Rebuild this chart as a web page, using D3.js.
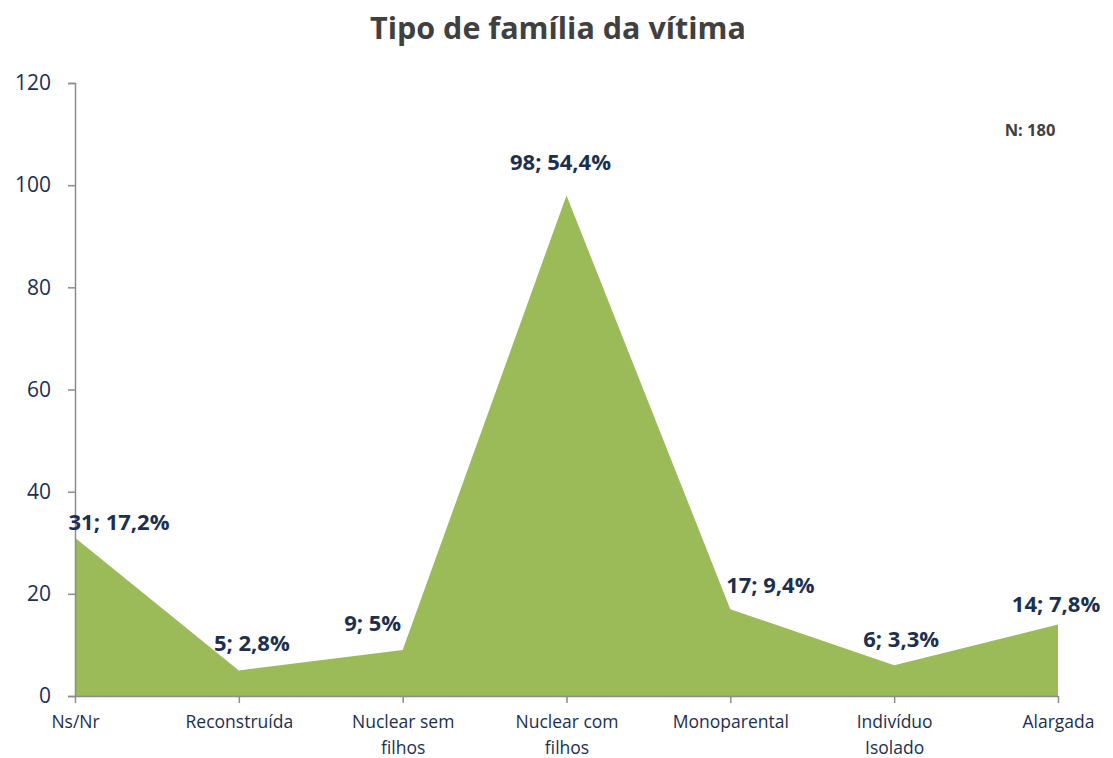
<!DOCTYPE html>
<html>
<head>
<meta charset="utf-8">
<script src="https://cdn.jsdelivr.net/npm/d3@7"></script>
<style>
    body { margin: 0; background: #fff; }
    svg { font-family: "Open Sans", "Noto Sans", sans-serif; }
    .axis path, .axis line { stroke: #8c8c8c; stroke-width: 1.5; }
    .axis text { fill: #1c2f4f; font-family: "Open Sans", "Noto Sans", sans-serif; }
</style>
</head>
<body>
<svg id="chart" width="1113" height="758"></svg>
<script>
// chart values
var categories = ["Ns/Nr", "Reconstruída", "Nuclear sem filhos", "Nuclear com filhos", "Monoparental", "Indivíduo Isolado", "Alargada"];
var values = [31, 5, 9, 98, 17, 6, 14];
var percents = ["17,2%", "2,8%", "5%", "54,4%", "9,4%", "3,3%", "7,8%"];
var yTicks = [0, 20, 40, 60, 80, 100, 120];
var totalN = 180;

// label nudges (layout only), matching the manually placed labels
var labelDx = [44, 13, -30, -6, 40, 7, -2];
var labelDy = [-15, -27, -27, -33, -24, -26, -20];

var svg = d3.select("#chart");
var margin = { top: 83, right: 55, bottom: 62, left: 75 };
var width = +svg.attr("width") - margin.left - margin.right;
var height = +svg.attr("height") - margin.top - margin.bottom;

var xScale = d3.scalePoint().domain(categories).range([0, width]);
var yScale = d3.scaleLinear().domain([0, 120]).range([height, 0]);

var g = svg.append("g")
    .attr("transform", "translate(" + margin.left + "," + margin.top + ")");

var data = categories.map(function (c, i) {
    return { cat: c, value: values[i], pct: percents[i], i: i };
});

var area = d3.area()
    .x(function (d) { return xScale(d.cat); })
    .y0(yScale(0))
    .y1(function (d) { return yScale(d.value); });

g.append("path")
    .datum(data)
    .attr("fill", "#9bbb59")
    .attr("d", area);

var yAxis = d3.axisLeft(yScale)
    .tickValues(yTicks)
    .tickSizeInner(7)
    .tickSizeOuter(7)
    .tickPadding(17);

var xAxis = d3.axisBottom(xScale)
    .tickSizeInner(7)
    .tickSizeOuter(0)
    .tickPadding(13);

var gx = g.append("g")
    .attr("class", "axis axis-x")
    .attr("transform", "translate(0," + height + ")")
    .call(xAxis);

gx.selectAll("text")
    .style("font-size", "17.5px")
    .each(function (d) {
        var t = d3.select(this);
        var words = d.split(" ");
        if (words.length > 2 || d.length > 12) {
            var first = words.length > 2 ? words.slice(0, 2).join(" ") : words[0];
            var rest = words.length > 2 ? words.slice(2).join(" ") : words.slice(1).join(" ");
            t.text(null);
            t.append("tspan").attr("x", 0).attr("dy", "0.71em").text(first);
            t.append("tspan").attr("x", 0).attr("dy", "1.45em").text(rest);
            t.attr("dy", null);
        }
    });

var gy = g.append("g")
    .attr("class", "axis axis-y")
    .call(yAxis);

gy.selectAll("text").style("font-size", "21px");

g.selectAll(".data-label")
    .data(data)
    .enter().append("text")
    .attr("class", "data-label")
    .attr("x", function (d) { return xScale(d.cat) + labelDx[d.i]; })
    .attr("y", function (d) { return yScale(d.value) + labelDy[d.i]; })
    .attr("dy", "0.35em")
    .attr("text-anchor", "middle")
    .style("font-size", "22px")
    .style("font-weight", "bold")
    .style("fill", "#1c2f4f")
    .text(function (d) { return d.value + "; " + d.pct; });

svg.append("text")
    .attr("x", 558)
    .attr("y", 28)
    .attr("dy", "0.35em")
    .attr("text-anchor", "middle")
    .style("font-size", "30.5px")
    .style("font-weight", "bold")
    .style("fill", "#404040")
    .text("Tipo de família da vítima");

svg.append("text")
    .attr("x", 1030)
    .attr("y", 130)
    .attr("dy", "0.35em")
    .attr("text-anchor", "middle")
    .style("font-size", "16.5px")
    .style("font-weight", "bold")
    .style("fill", "#404040")
    .text("N: " + totalN);
</script>
</body>
</html>
